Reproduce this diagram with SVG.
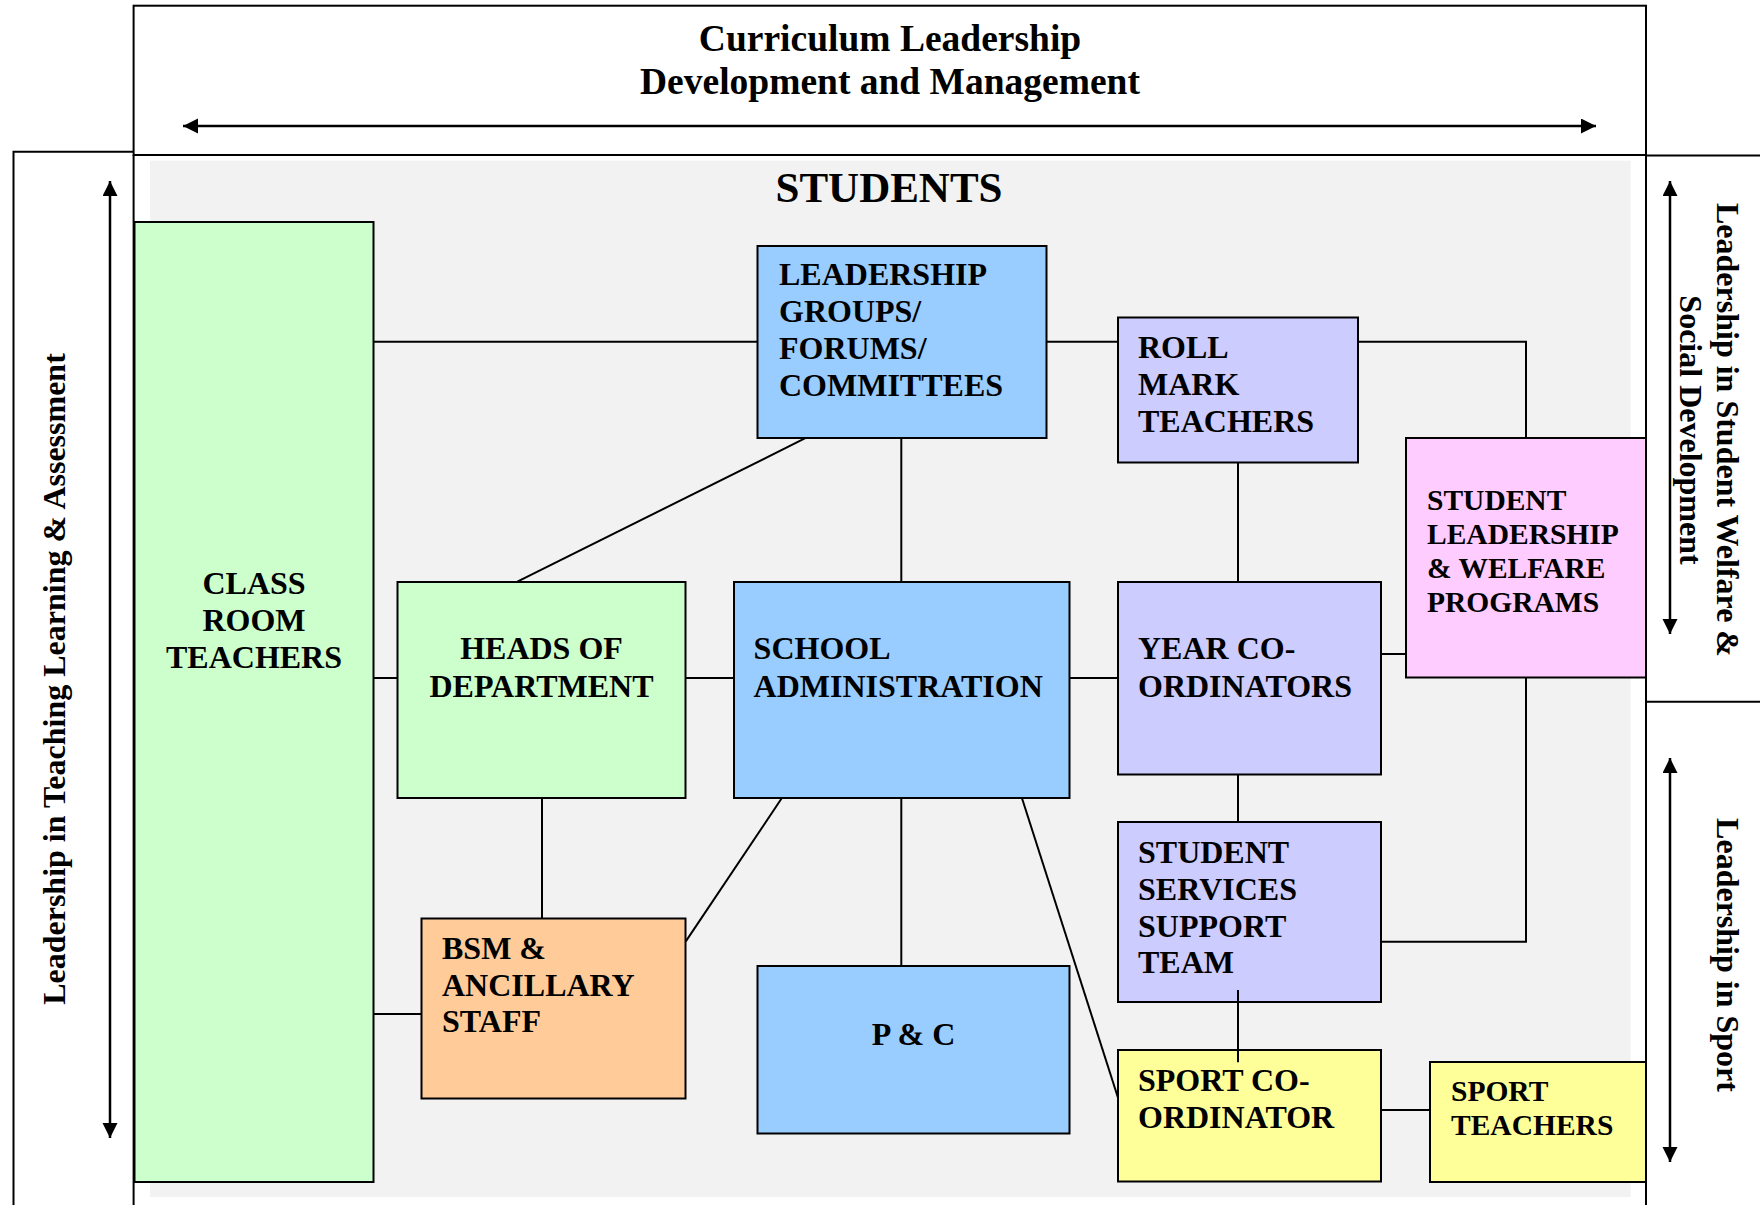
<svg xmlns="http://www.w3.org/2000/svg" width="1760" height="1205" viewBox="0 0 1760 1205">
<style>
.frame{fill:none;stroke:#000;stroke-width:2}
.box{stroke:#000;stroke-width:2}
.green{fill:#CCFFCC}
.blue{fill:#99CCFF}
.lav{fill:#CCCCFF}
.pink{fill:#FFCCFF}
.orange{fill:#FFCC99}
.yellow{fill:#FFFF99}
.conn line,.conn polyline{fill:none;stroke:#000;stroke-width:2}
text{font-family:"Liberation Serif","Times New Roman",serif;font-weight:bold;fill:#000}
.t{font-size:32px}
.ts{font-size:29.5px}
.side{font-size:32px}
.arrow{stroke:#000;stroke-width:2.5;fill:none}
</style>
<defs>
<marker id="ah" markerUnits="userSpaceOnUse" markerWidth="16" markerHeight="16" refX="15" refY="7.5" orient="auto-start-reverse" viewBox="0 0 16 16">
<path d="M0,0 L15,7.5 L0,15 z" fill="#000"/>
</marker>
</defs>
<rect x="0" y="0" width="1760" height="1205" fill="#fff"/>
<g id="frames">
<rect class="frame" x="133.6" y="5.7" width="1512.4" height="149.3"/>
<polyline class="frame" points="13.5,1205 13.5,151.7 133.6,151.7"/>
<line class="frame" x1="133.6" y1="155" x2="133.6" y2="1205"/>
<line class="frame" x1="1646" y1="155" x2="1646" y2="1205"/>
<line class="frame" x1="1646" y1="155.5" x2="1760" y2="155.5"/>
<line class="frame" x1="1646" y1="701.7" x2="1760" y2="701.7"/>
<rect x="150" y="160.7" width="1480.7" height="1036.3" fill="#F2F2F2"/>
</g>
<g id="arrows">
<line class="arrow" x1="183" y1="126" x2="1596" y2="126" marker-start="url(#ah)" marker-end="url(#ah)"/>
<line class="arrow" x1="110" y1="181" x2="110" y2="1138" marker-start="url(#ah)" marker-end="url(#ah)"/>
<line class="arrow" x1="1670" y1="181" x2="1670" y2="634" marker-start="url(#ah)" marker-end="url(#ah)"/>
<line class="arrow" x1="1670" y1="758" x2="1670" y2="1162" marker-start="url(#ah)" marker-end="url(#ah)"/>
</g>
<g id="labels">
<text font-size="37.5" text-anchor="middle" x="890" y="51">Curriculum Leadership</text>
<text font-size="37.5" text-anchor="middle" x="890" y="94">Development and Management</text>
<text font-size="43" text-anchor="middle" x="889" y="202">STUDENTS</text>
<text class="side" text-anchor="middle" transform="translate(65,679) rotate(-90)">Leadership in Teaching Learning &amp; Assessment</text>
<text class="side" text-anchor="middle" transform="translate(1717,430) rotate(90)">Leadership in Student Welfare &amp;</text>
<text class="side" text-anchor="middle" transform="translate(1679.5,430) rotate(90)">Social Development</text>
<text class="side" text-anchor="middle" transform="translate(1716.5,955) rotate(90)">Leadership in Sport</text>
</g>
<g class="conn" id="connectors">
<line x1="373.7" y1="341.7" x2="757.6" y2="341.7"/>
<line x1="1046.7" y1="341.7" x2="1118" y2="341.7"/>
<polyline points="1358,341.7 1526,341.7 1526,438.2"/>
<line x1="805.3" y1="438.2" x2="517.4" y2="581.7"/>
<line x1="901.3" y1="438.2" x2="901.3" y2="582"/>
<line x1="1238" y1="462.3" x2="1238" y2="582"/>
<line x1="373.7" y1="678" x2="397.3" y2="678"/>
<line x1="685.8" y1="678" x2="734" y2="678"/>
<line x1="1069.7" y1="678" x2="1118" y2="678"/>
<line x1="1381" y1="654" x2="1406" y2="654"/>
<line x1="542" y1="798.3" x2="542" y2="918.3"/>
<line x1="781.7" y1="798.3" x2="685.8" y2="941.4"/>
<line x1="373.7" y1="1014" x2="421.4" y2="1014"/>
<line x1="901.3" y1="798.3" x2="901.3" y2="966"/>
<line x1="1022" y1="798.3" x2="1118" y2="1097.7"/>
<line x1="1238" y1="774.4" x2="1238" y2="822.2"/>
<polyline points="1526,677.3 1526,941.8 1381,941.8"/>
<line x1="1381" y1="1110" x2="1430" y2="1110"/>
</g>
<g id="n-classroom">
<rect class="box green" x="134.5" y="222" width="239" height="960"/>
<text class="t" text-anchor="middle" x="254" y="594">CLASS</text>
<text class="t" text-anchor="middle" x="254" y="631">ROOM</text>
<text class="t" text-anchor="middle" x="254" y="668">TEACHERS</text>
</g>
<g id="n-leadership">
<rect class="box blue" x="757.5" y="246" width="289" height="192"/>
<text class="t" x="779" y="285">LEADERSHIP</text>
<text class="t" x="779" y="322">GROUPS/</text>
<text class="t" x="779" y="359">FORUMS/</text>
<text class="t" x="779" y="396">COMMITTEES</text>
</g>
<g id="n-rollmark">
<rect class="box lav" x="1118" y="317.5" width="240" height="145"/>
<text class="t" x="1138" y="358">ROLL</text>
<text class="t" x="1138" y="395">MARK</text>
<text class="t" x="1138" y="432">TEACHERS</text>
</g>
<g id="n-studentleadership">
<rect class="box pink" x="1406" y="438" width="240" height="239.5"/>
<text class="ts" x="1427" y="510">STUDENT</text>
<text class="ts" x="1427" y="544">LEADERSHIP</text>
<text class="ts" x="1427" y="578">&amp; WELFARE</text>
<text class="ts" x="1427" y="612">PROGRAMS</text>
</g>
<g id="n-hod">
<rect class="box green" x="397.5" y="582" width="288" height="216"/>
<text class="t" text-anchor="middle" x="541.5" y="659">HEADS OF</text>
<text class="t" text-anchor="middle" x="541.5" y="696.5">DEPARTMENT</text>
</g>
<g id="n-schooladmin">
<rect class="box blue" x="734" y="582" width="335.5" height="216"/>
<text class="t" x="753.6" y="659">SCHOOL</text>
<text class="t" x="753.6" y="696.5">ADMINISTRATION</text>
</g>
<g id="n-yearco">
<rect class="box lav" x="1118" y="582" width="263" height="192.5"/>
<text class="t" x="1138" y="659">YEAR CO-</text>
<text class="t" x="1138" y="696.5">ORDINATORS</text>
</g>
<g id="n-bsm">
<rect class="box orange" x="421.5" y="918.5" width="264" height="180"/>
<text class="t" x="442" y="959">BSM &amp;</text>
<text class="t" x="442" y="995.5">ANCILLARY</text>
<text class="t" x="442" y="1032">STAFF</text>
</g>
<g id="n-pc">
<rect class="box blue" x="757.5" y="966" width="312" height="167.5"/>
<text class="t" text-anchor="middle" x="913.6" y="1044.5">P &amp; C</text>
</g>
<g id="n-sss">
<rect class="box lav" x="1118" y="822" width="263" height="180"/>
<text class="t" x="1138" y="863">STUDENT</text>
<text class="t" x="1138" y="900">SERVICES</text>
<text class="t" x="1138" y="936.5">SUPPORT</text>
<text class="t" x="1138" y="973">TEAM</text>
</g>
<g id="n-sportco">
<rect class="box yellow" x="1118" y="1050" width="263" height="131.5"/>
<text class="t" x="1138" y="1091">SPORT CO-</text>
<text class="t" x="1138" y="1128">ORDINATOR</text>
</g>
<g id="n-sportteachers">
<rect class="box yellow" x="1430" y="1062" width="216" height="120"/>
<text class="ts" x="1451" y="1100.5">SPORT</text>
<text class="ts" x="1451" y="1134.5">TEACHERS</text>
</g>
<g class="conn" id="connectors-over">
<line x1="1238" y1="990" x2="1238" y2="1062.3"/>
</g>
</svg>
